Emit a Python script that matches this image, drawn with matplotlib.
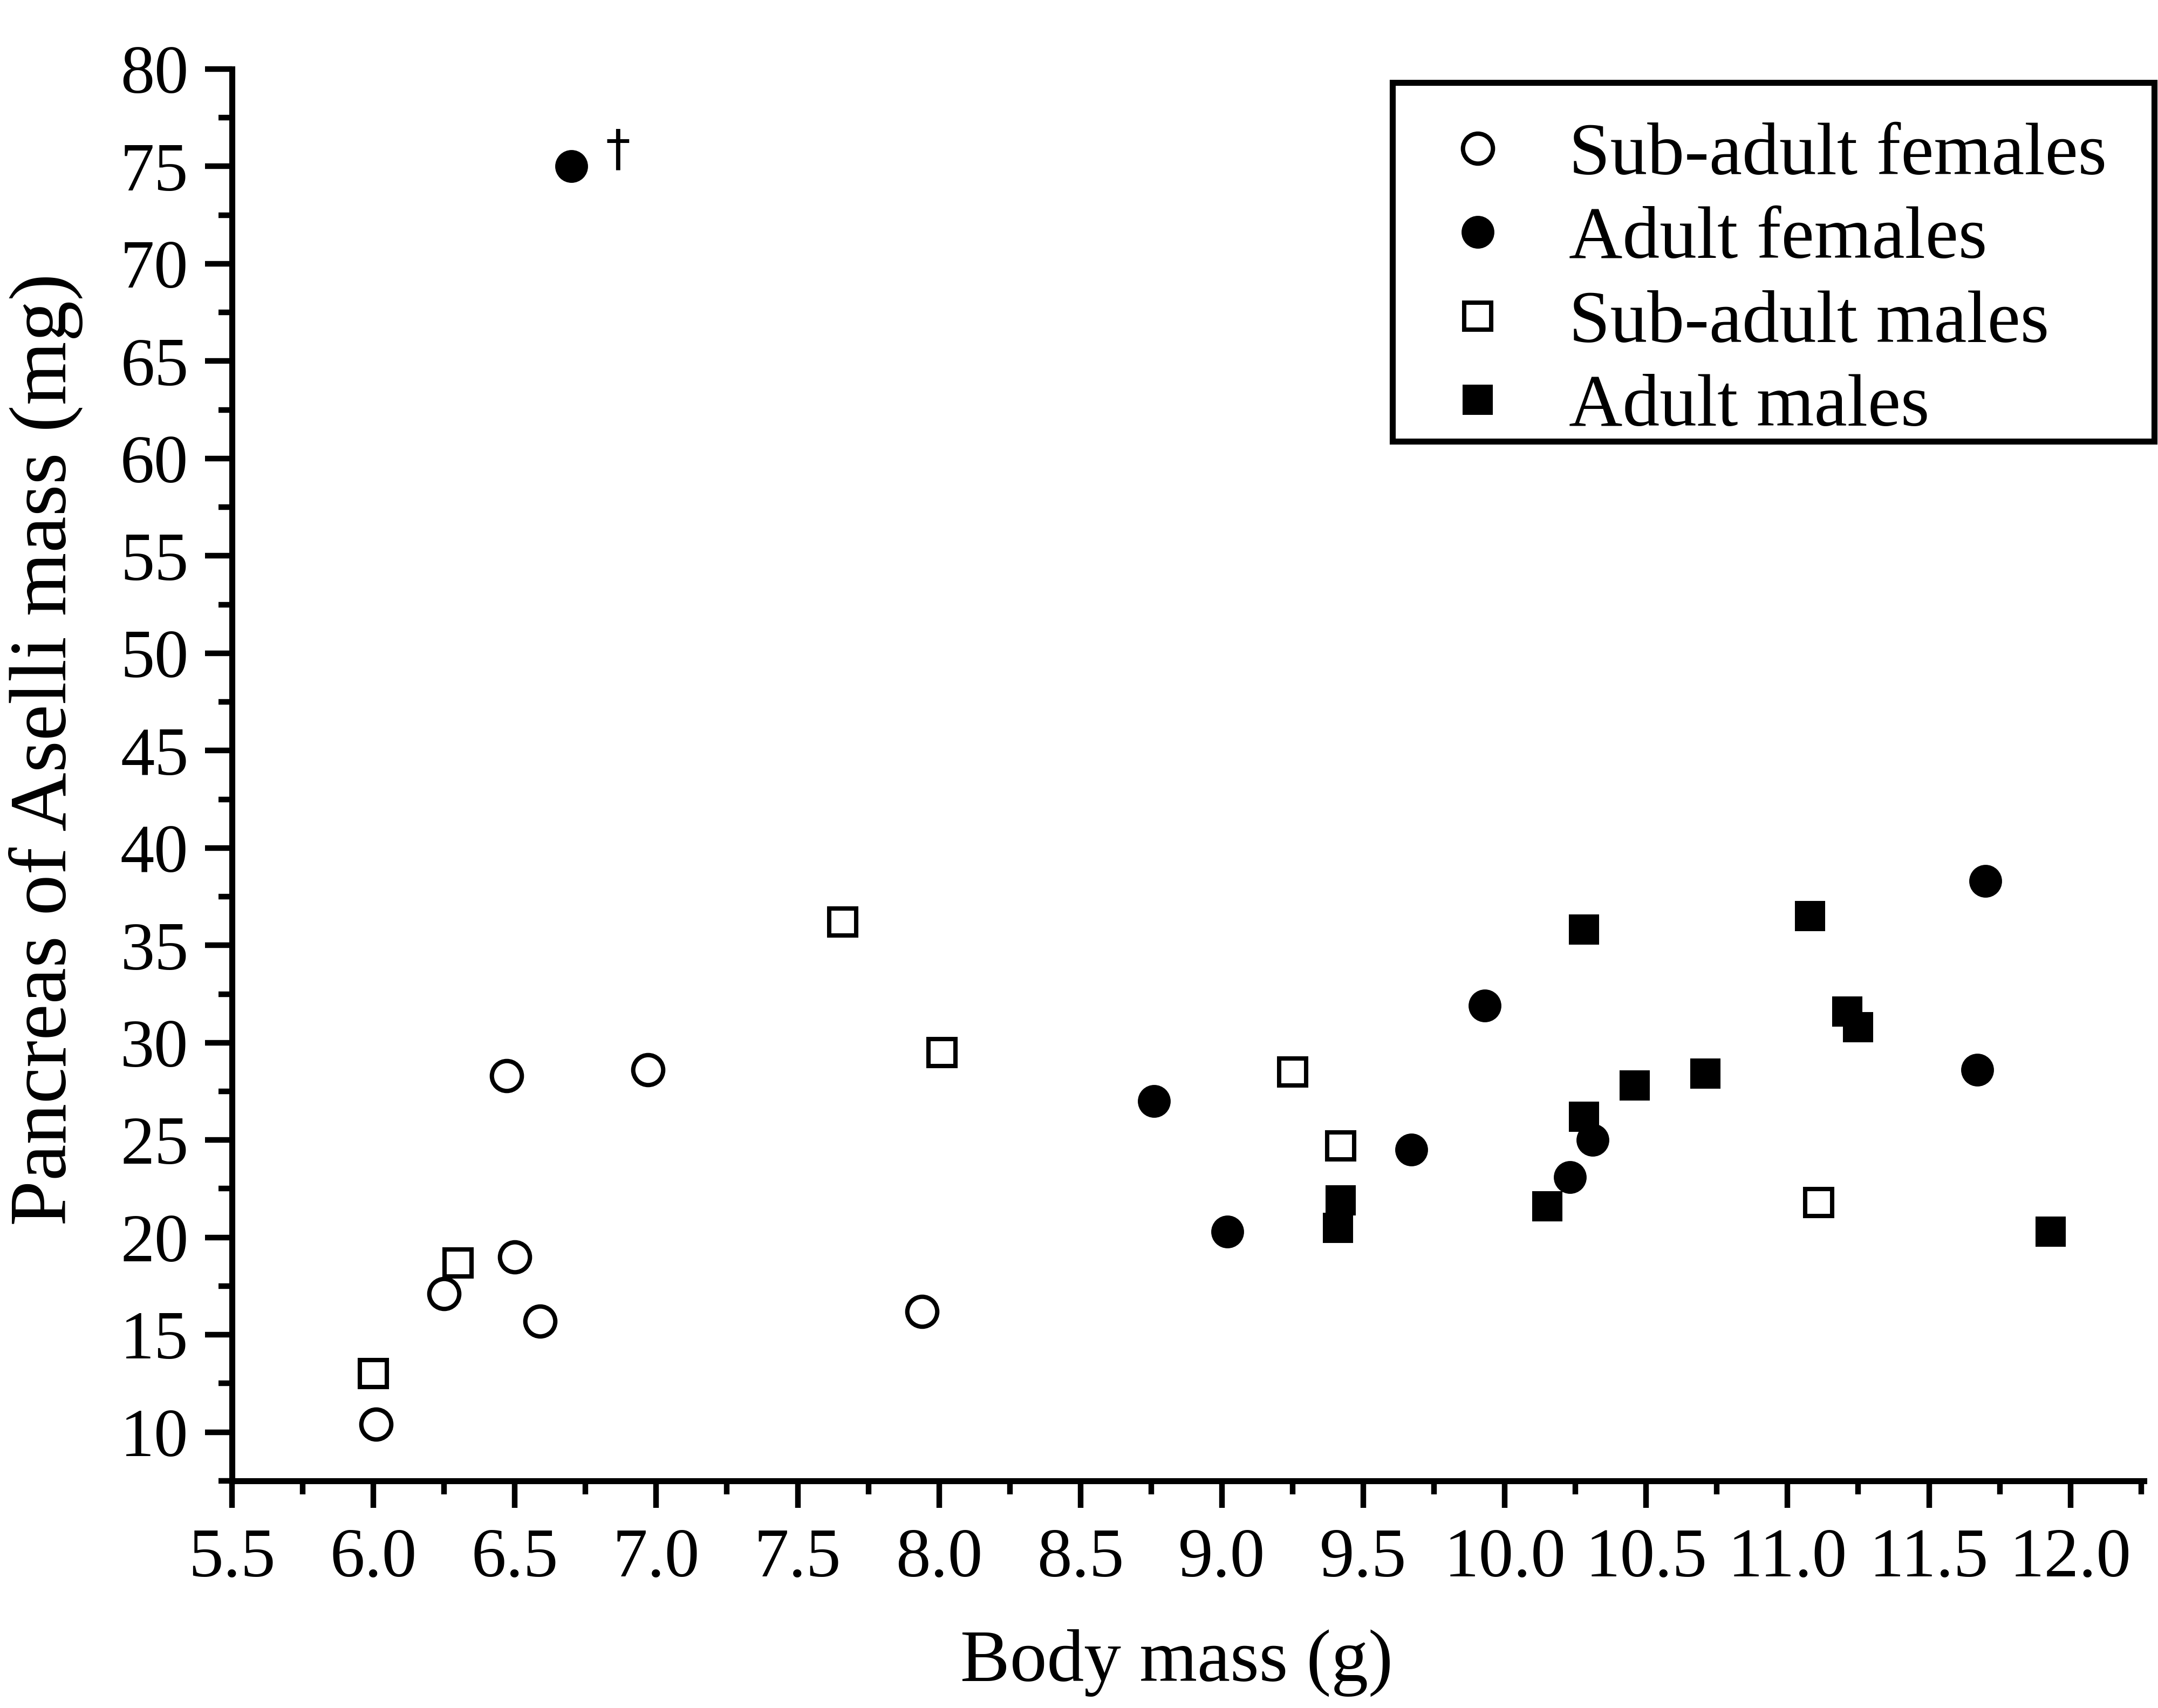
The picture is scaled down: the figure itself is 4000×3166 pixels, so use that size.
import matplotlib
matplotlib.use("Agg")
import matplotlib.pyplot as plt
from matplotlib.patches import Rectangle
from matplotlib.ticker import MultipleLocator

plt.rcParams['font.family'] = ['Liberation Serif', 'DejaVu Serif']

# body mass (g) and pancreas of Aselli mass (mg) per group
subadult_f_x = [6.01, 6.25, 6.47, 6.50, 6.59, 6.97, 7.94]
subadult_f_y = [10.4, 17.1, 28.3, 19.0, 15.7, 28.6, 16.2]

adult_f_x = [6.70, 8.76, 9.02, 9.67, 9.93, 10.23, 10.31, 11.67, 11.70]
adult_f_y = [75.0, 27.0, 20.3, 24.5, 31.9, 23.1, 25.0, 28.6, 38.3]

subadult_m_x = [6.00, 6.30, 7.66, 8.01, 9.25, 9.42, 11.11]
subadult_m_y = [13.0, 18.7, 36.2, 29.5, 28.5, 24.7, 21.8]

adult_m_x = [9.42, 9.41, 10.15, 10.28, 10.28, 10.46, 10.71, 11.08, 11.21, 11.25, 11.93]
adult_m_y = [21.9, 20.5, 21.6, 26.2, 35.8, 27.8, 28.4, 36.5, 31.6, 30.8, 20.3]

labels = ["Sub-adult females", "Adult females", "Sub-adult males", "Adult males"]

fig = plt.figure(figsize=(40, 31.66), dpi=100)
ax = fig.add_axes([0.1075, 0.133, 0.886, 0.8266])

mew = 5.8
ax.plot(subadult_f_x, subadult_f_y, 'o', ms=40, mfc='white', mec='black', mew=mew, label=labels[0])
ax.plot(adult_f_x, adult_f_y, 'o', ms=38, mfc='black', mec='black', mew=mew, label=labels[1])
ax.plot(subadult_m_x, subadult_m_y, 's', ms=36, mfc='white', mec='black', mew=mew, label=labels[2])
ax.plot(adult_m_x, adult_m_y, 's', ms=35, mfc='black', mec='black', mew=mew, label=labels[3])

# outlier flag
ax.annotate('\u2020', xy=(adult_f_x[0], adult_f_y[0]), xytext=(62, 20),
            textcoords='offset points', ha='center', va='center',
            fontsize=66, family='DejaVu Sans')

ax.set_xlim(5.5, 12.26)
ax.set_ylim(7.5, 80)
ax.xaxis.set_minor_locator(MultipleLocator(0.25))
ax.yaxis.set_minor_locator(MultipleLocator(2.5))
ax.set_xticks([5.5 + 0.5 * i for i in range(14)])
ax.set_xticklabels(["%.1f" % (5.5 + 0.5 * i) for i in range(14)])
ax.set_yticks(range(10, 81, 5))

for side in ['top', 'right']:
    ax.spines[side].set_visible(False)
for side in ['left', 'bottom']:
    ax.spines[side].set_linewidth(8)

ax.tick_params(which='both', direction='out', width=7.5, color='black')
ax.tick_params(which='major', length=36)
ax.tick_params(which='minor', length=18)
ax.tick_params(axis='x', which='major', labelsize=93, pad=27)
ax.tick_params(axis='y', which='major', labelsize=91, pad=22)

ax.set_xlabel("Body mass (g)", fontsize=99)
ax.set_ylabel("Pancreas of Aselli mass (mg)", fontsize=109)
ax.xaxis.set_label_coords(0.494, -0.105)
ax.yaxis.set_label_coords(-0.078, 0.518)

# legend entries without their own frame; the box is drawn separately
leg = ax.legend(loc='upper left', bbox_to_anchor=(2581 / 4000, 1 - 199 / 3166),
                bbox_transform=fig.transFigure, borderaxespad=0, numpoints=1,
                fontsize=99, frameon=False, borderpad=0.2, labelspacing=0.22,
                handlelength=1.9, handletextpad=0.28)

box = Rectangle((2581 / 4000, 1 - 818 / 3166), (3993 - 2581) / 4000, (818 - 153) / 3166,
                transform=fig.transFigure, fill=False, edgecolor='black', linewidth=8)
fig.add_artist(box)

fig.savefig("out.png", dpi=100, facecolor='white')
